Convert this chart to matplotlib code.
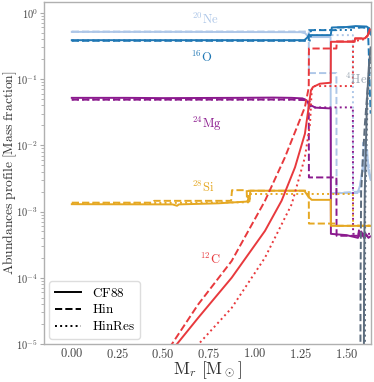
import numpy as np
import matplotlib
matplotlib.use('Agg')
import matplotlib.pyplot as plt
from matplotlib.ticker import FuncFormatter, FixedLocator, LogLocator

plt.rcParams['mathtext.fontset'] = 'cm'

# mass coordinate / mass fraction
NE_CF88 = [(0.0, 0.515), (0.6, 0.515), (1.0, 0.512), (1.25, 0.51), (1.275, 0.49), (1.29, 0.44),
           (1.30, 0.43), (1.413, 0.43), (1.415, 0.0019), (1.56, 0.0019), (1.575, 0.0025),
           (1.59, 0.005), (1.597, 0.004), (1.603, 0.009), (1.608, 0.006), (1.613, 0.0085),
           (1.62, 0.004), (1.632, 0.003)]
NE_HIN = [(0.0, 0.52), (1.294, 0.52), (1.295, 0.123), (1.445, 0.123), (1.446, 0.0019),
          (1.57, 0.002), (1.585, 0.004), (1.592, 0.011), (1.598, 0.006), (1.605, 0.012),
          (1.612, 0.007), (1.62, 0.005), (1.632, 0.003)]
NE_HINRES = [(0.0, 0.515), (1.305, 0.515), (1.306, 0.46), (1.535, 0.46), (1.536, 0.0019),
             (1.575, 0.002), (1.59, 0.006), (1.60, 0.004), (1.61, 0.008), (1.632, 0.003)]

O_CF88 = [(0.0, 0.386), (1.27, 0.386), (1.285, 0.42), (1.295, 0.46), (1.414, 0.46), (1.42, 0.60),
          (1.50, 0.61), (1.55, 0.63), (1.61, 0.62), (1.625, 0.58), (1.633, 0.47)]
O_HIN = [(0.0, 0.378), (1.294, 0.378), (1.295, 0.547), (1.445, 0.547), (1.447, 0.60),
         (1.617, 0.60), (1.621, 0.3), (1.626, 0.1), (1.632, 0.03)]
O_HINRES = [(0.0, 0.382), (1.305, 0.382), (1.306, 0.55), (1.535, 0.55), (1.537, 0.60),
            (1.62, 0.60), (1.633, 0.45)]

MG_CF88 = [(0.0, 0.052), (0.3, 0.052), (0.5, 0.0515), (0.9, 0.052), (1.1, 0.0525), (1.2, 0.052),
           (1.26, 0.051), (1.28, 0.048), (1.30, 0.041), (1.33, 0.037), (1.414, 0.036),
           (1.415, 0.00046), (1.50, 0.00044), (1.563, 0.00040), (1.568, 0.00052), (1.575, 0.00042),
           (1.58, 0.00050), (1.588, 0.00046), (1.595, 0.0004), (1.60, 0.00048), (1.61, 0.00044),
           (1.62, 0.00040), (1.63, 0.00042)]
MG_HIN = [(0.0, 0.0488), (1.2, 0.049), (1.275, 0.048), (1.29, 0.045), (1.294, 0.04),
          (1.295, 0.00327), (1.445, 0.00327), (1.446, 0.00043), (1.632, 0.00043)]
MG_HINRES = [(0.0, 0.049), (1.28, 0.049), (1.30, 0.045), (1.306, 0.0373), (1.535, 0.0373),
             (1.536, 0.00046), (1.632, 0.00046)]

SI_CF88 = [(0.0, 0.00129), (0.55, 0.00128), (0.575, 0.00122), (0.585, 0.00128), (0.8, 0.00133),
           (0.97, 0.00142), (0.975, 0.00206), (1.27, 0.00206), (1.29, 0.0017), (1.31, 0.0015),
           (1.414, 0.0015), (1.415, 0.000607), (1.632, 0.000607)]
SI_HIN = [(0.0, 0.00136), (0.44, 0.00136), (0.45, 0.00145), (0.87, 0.00145), (0.875, 0.0021),
          (0.955, 0.0021), (0.957, 0.00145), (0.963, 0.00145), (0.965, 0.00206), (1.294, 0.00206),
          (1.295, 0.000658), (1.445, 0.000658), (1.447, 0.00061), (1.632, 0.00061)]
SI_HINRES = [(0.0, 0.00131), (0.97, 0.00138), (0.975, 0.00184), (1.535, 0.00184),
             (1.536, 0.00061), (1.632, 0.00061)]

C_CF88 = [(0.0, 1e-8), (0.45, 3.8e-6), (0.572, 9.8e-6), (0.69, 2.48e-5), (0.873, 1e-4),
          (1.055, 5.1e-4), (1.146, 1.46e-3), (1.219, 4.65e-3), (1.273, 0.0149), (1.291, 0.0336),
          (1.306, 0.0675), (1.317, 0.0757), (1.355, 0.085), (1.414, 0.088), (1.415, 0.365),
          (1.545, 0.365), (1.547, 0.41), (1.60, 0.41), (1.615, 0.45), (1.628, 0.56)]
C_HIN = [(0.0, 1e-8), (0.45, 4e-6), (0.545, 9.8e-6), (0.69, 3.95e-5), (0.873, 1.79e-4),
         (1.055, 1.45e-3), (1.164, 6.58e-3), (1.237, 0.0211), (1.273, 0.0377), (1.291, 0.0675),
         (1.294, 0.075), (1.295, 0.289), (1.445, 0.289), (1.447, 0.37), (1.545, 0.37),
         (1.547, 0.41), (1.60, 0.41), (1.615, 0.45), (1.628, 0.55)]
C_HINRES = [(0.0, 1e-9), (0.55, 3.5e-6), (0.69, 9.8e-6), (0.873, 3.5e-5), (1.055, 2.01e-4),
            (1.201, 1.29e-3), (1.273, 6.58e-3), (1.301, 0.0211), (1.310, 0.0675), (1.317, 0.0783),
            (1.535, 0.0783), (1.536, 0.37), (1.60, 0.40), (1.615, 0.45), (1.628, 0.55)]

HE_CF88 = [(1.5, 1e-9), (1.594, 1e-7), (1.596, 1e-4), (1.60, 2e-3), (1.612, 0.047),
           (1.622, 0.15), (1.632, 0.3)]
HE_HIN = [(1.5, 1e-9), (1.575, 1e-7), (1.577, 1e-4), (1.58, 2e-3), (1.60, 0.02),
          (1.627, 0.18), (1.633, 0.25)]
HE_HINRES = [(1.5, 1e-9), (1.60, 1e-7), (1.602, 1e-3), (1.615, 0.05), (1.632, 0.2)]

species = [
    ('Ne', '#aec7e8', [NE_CF88, NE_HIN, NE_HINRES]),
    ('O', '#1f77b4', [O_CF88, O_HIN, O_HINRES]),
    ('Mg', '#8b1a8e', [MG_CF88, MG_HIN, MG_HINRES]),
    ('Si', '#e5a823', [SI_CF88, SI_HIN, SI_HINRES]),
    ('C', '#e8393d', [C_CF88, C_HIN, C_HINRES]),
    ('He', '#5d6d7e', [HE_CF88, HE_HIN, HE_HINRES]),
]
models = ['CF88', 'Hin', 'HinRes']
styles = ['-', '--', ':']

# label text, x, y
labels = [
    (r'$^{20}\mathrm{Ne}$', 0.732, 0.80, '#aec7e8'),
    (r'$^{16}\mathrm{O}$', 0.710, 0.213, '#1f77b4'),
    (r'$^{24}\mathrm{Mg}$', 0.738, 0.0213, '#8b1a8e'),
    (r'$^{28}\mathrm{Si}$', 0.716, 0.00228, '#e5a823'),
    (r'$^{12}\mathrm{C}$', 0.754, 1.86e-4, '#e8393d'),
    (r'$^{4}\mathrm{He}$', 1.552, 0.099, '#9aa5b1'),
]

fig = plt.figure(figsize=(3.74, 3.82), dpi=100)
ax = fig.add_axes([0.118, 0.0995, 0.874, 0.895])

for name, col, runs in species:
    for run, ls in zip(runs, styles):
        arr = np.array(run)
        ax.plot(arr[:, 0], arr[:, 1], ls=ls, color=col, lw=1.4)

for txt, x, y, col in labels:
    ax.text(x, y, txt, color=col, fontsize=9, ha='center', va='center')

for m, ls in zip(models, styles):
    ax.plot([], [], ls=ls, color='k', lw=1.4, label=r'$\mathrm{%s}$' % m)
leg = ax.legend(loc='lower left', fontsize=9.5, handlelength=2.0, handletextpad=0.8,
                labelspacing=0.3, framealpha=1.0, borderaxespad=0.4)
leg.get_frame().set_edgecolor('#dddddd')

ax.set_yscale('log')
ax.set_xlim(-0.151, 1.634)
ax.set_ylim(1e-5, 1.45)
ax.xaxis.set_major_locator(FixedLocator([0.0, 0.25, 0.5, 0.75, 1.0, 1.25, 1.5]))
ax.xaxis.set_major_formatter(FuncFormatter(lambda v, p: r'$%.2f$' % v))
ax.yaxis.set_major_locator(LogLocator(base=10))
ax.yaxis.set_minor_locator(LogLocator(base=10, subs=np.arange(2, 10)))
ax.yaxis.set_major_formatter(FuncFormatter(lambda v, p: r'$10^{%d}$' % round(np.log10(v))))
ax.yaxis.set_minor_formatter(FuncFormatter(lambda v, p: ''))

ax.tick_params(axis='x', length=0, labelsize=9, colors='#444444', pad=2)
ax.tick_params(axis='y', which='major', length=3, width=0.8, color='#aaaaaa',
               labelsize=7.5, labelcolor='#444444', pad=1.5)
ax.tick_params(axis='y', which='minor', length=2, width=0.6, color='#aaaaaa')
for s in ax.spines.values():
    s.set_color('#b0b0b0')
    s.set_linewidth(1.0)

ax.set_ylabel(r'$\mathrm{Abundances\ profile\ [Mass\ fraction]}$', fontsize=9,
              color='#333333')
ax.yaxis.set_label_coords(-0.08, 0.5)
ax.set_xlabel(r'$\mathrm{M}_r\ [\mathrm{M}_\odot]$', fontsize=13, color='#333333')
ax.xaxis.set_label_coords(0.5, -0.045)

# size the axis titles to the lengths seen in the reference (pixels)
fig.canvas.draw()
ylab = ax.yaxis.label
h = ylab.get_window_extent().height
ylab.set_fontsize(9 * 205.0 / h)
xlab = ax.xaxis.label
w = xlab.get_window_extent().width
xlab.set_fontsize(13 * 69.0 / w)

# keep the y title just inside the left edge of the figure
fig.canvas.draw()
bb = ylab.get_window_extent()
ax_w = ax.get_window_extent().width
ax.yaxis.set_label_coords(-0.08 + (1.0 - bb.x0) / ax_w, 0.5)

fig.savefig('out.png', dpi=100)
